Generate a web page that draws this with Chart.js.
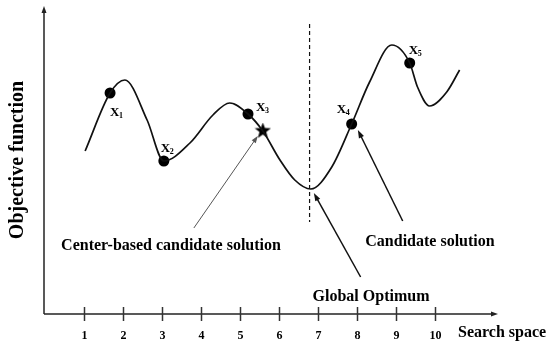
<!DOCTYPE html>
<html>
<head>
<meta charset="utf-8">
<script src="https://cdn.jsdelivr.net/npm/chart.js@4/dist/chart.umd.min.js"></script>
<style>
  body { margin: 0; background: #fff; }
  #chart { display: block; }
</style>
</head>
<body>
<canvas id="chart" width="550" height="345"></canvas>
<script>
// Search space ticks
const xTicks = [1, 2, 3, 4, 5, 6, 7, 8, 9, 10];

// Objective function curve
const curveX = [1.03, 1.67, 2.05, 2.62, 3.05, 3.72, 4.31, 4.74, 5.21, 5.59, 6.03, 6.41, 6.82, 7.36, 7.87, 8.33, 8.90, 9.36, 9.56, 9.87, 10.31, 10.64];
const curveY = [163, 221, 234, 194, 153, 171, 199, 211, 200, 183, 154, 134, 125, 147, 190, 232, 269, 251, 227, 208, 222, 244];

// Candidate solutions X1..X5
const markerX = [1.67, 3.05, 5.21, 7.87, 9.36];
const markerY = [221, 153, 200, 190, 251];
const markerNames = ['1', '2', '3', '4', '5'];

// Center-based candidate solution (star)
const starX = [5.59];
const starY = [183];

// Global optimum position
const optimumX = 6.79;

const serif = '"Liberation Serif", "Times New Roman", serif';

// label offsets (px) of the X_i names from their dots
const nameOffsets = [[6, 20], [3, -12], [14, -6], [-9, -14], [5, -12]];

// filled star marker
function makeStar(size) {
  const c = document.createElement('canvas');
  c.width = size; c.height = size;
  const g = c.getContext('2d');
  const cx = size / 2, cy = size / 2, R = size / 2, r = R * 0.42;
  g.beginPath();
  for (let i = 0; i < 10; i++) {
    const a = -Math.PI / 2 + i * Math.PI / 5;
    const rad = i % 2 === 0 ? R : r;
    g.lineTo(cx + rad * Math.cos(a), cy + rad * Math.sin(a));
  }
  g.closePath();
  g.fillStyle = '#000';
  g.fill();
  return c;
}

function arrow(ctx, x1, y1, x2, y2, color, width, len, half) {
  ctx.save();
  ctx.strokeStyle = color;
  ctx.fillStyle = color;
  ctx.lineWidth = width;
  const a = Math.atan2(y2 - y1, x2 - x1);
  ctx.beginPath();
  ctx.moveTo(x1, y1);
  ctx.lineTo(x2 - Math.cos(a) * len * 0.8, y2 - Math.sin(a) * len * 0.8);
  ctx.stroke();
  ctx.beginPath();
  ctx.moveTo(x2, y2);
  ctx.lineTo(x2 - len * Math.cos(a) + half * Math.sin(a), y2 - len * Math.sin(a) - half * Math.cos(a));
  ctx.lineTo(x2 - len * Math.cos(a) - half * Math.sin(a), y2 - len * Math.sin(a) + half * Math.cos(a));
  ctx.closePath();
  ctx.fill();
  ctx.restore();
}

const decorations = {
  id: 'decorations',
  beforeDatasetsDraw(chart) {
    const ctx = chart.ctx;
    const xs = chart.scales.x, ys = chart.scales.y;
    const area = chart.chartArea;
    ctx.save();
    // dashed optimum line
    ctx.strokeStyle = '#111';
    ctx.lineWidth = 1.2;
    ctx.setLineDash([4, 3]);
    ctx.beginPath();
    ctx.moveTo(xs.getPixelForValue(optimumX), ys.getPixelForValue(290));
    ctx.lineTo(xs.getPixelForValue(optimumX), ys.getPixelForValue(92));
    ctx.stroke();
    ctx.setLineDash([]);

    // axes with arrows
    const ox = area.left - 1, oy = area.bottom;
    arrow(ctx, ox, oy, ox, 6, '#222', 1.5, 7, 2.5);
    arrow(ctx, ox, oy, area.right + 1, oy, '#222', 1.5, 7, 2.5);

    // ticks crossing the axis + labels
    ctx.strokeStyle = '#333';
    ctx.lineWidth = 1.5;
    ctx.fillStyle = '#000';
    ctx.font = 'bold 12px ' + serif;
    ctx.textAlign = 'center';
    ctx.textBaseline = 'middle';
    xTicks.forEach(t => {
      const px = Math.round(xs.getPixelForValue(t)) + 0.5;
      ctx.beginPath();
      ctx.moveTo(px, oy - 7);
      ctx.lineTo(px, oy + 7);
      ctx.stroke();
      ctx.fillText(String(t), px, 336);
    });
    ctx.restore();
  },
  afterDatasetsDraw(chart) {
    const ctx = chart.ctx;
    const xs = chart.scales.x, ys = chart.scales.y;
    const P = (x, y) => [xs.getPixelForValue(x), ys.getPixelForValue(y)];
    ctx.save();

    // annotation arrows
    let a = P(3.82, 86), b = P(5.46, 178);
    arrow(ctx, a[0], a[1], b[0], b[1], '#555', 1, 7, 2.5);
    a = P(8.10, 37); b = P(6.90, 121);
    arrow(ctx, a[0], a[1], b[0], b[1], '#111', 1.5, 8, 2.8);
    a = P(9.18, 93); b = P(8.03, 184);
    arrow(ctx, a[0], a[1], b[0], b[1], '#111', 1.5, 8, 2.8);

    // X_i names
    ctx.fillStyle = '#000';
    ctx.textBaseline = 'middle';
    markerX.forEach((mx, i) => {
      const [px, py] = P(mx, markerY[i]);
      const lx = px + nameOffsets[i][0], ly = py + nameOffsets[i][1];
      ctx.font = 'bold 13px ' + serif;
      ctx.textAlign = 'left';
      ctx.fillText('X', lx - 6, ly);
      ctx.font = 'bold 8px ' + serif;
      ctx.fillText(markerNames[i], lx + 3, ly + 3);
    });

    // text labels
    ctx.font = 'bold 16px ' + serif;
    ctx.textAlign = 'center';
    ctx.fillText('Center-based candidate solution', 171, 246);
    ctx.fillText('Candidate solution', 430, 242);
    ctx.fillText('Global Optimum', 371, 297);
    ctx.textAlign = 'left';
    ctx.fillText('Search space', 458, 333);

    ctx.translate(18, 160);
    ctx.rotate(-Math.PI / 2);
    ctx.textAlign = 'center';
    ctx.font = 'bold 20px ' + serif;
    ctx.fillText('Objective function', 0, 0);
    ctx.restore();
  }
};

new Chart(document.getElementById('chart'), {
  type: 'scatter',
  data: {
    datasets: [
      {
        label: 'curve',
        data: curveX.map((x, i) => ({ x: x, y: curveY[i] })),
        showLine: true,
        borderColor: '#111',
        borderWidth: 1.7,
        pointRadius: 0,
        cubicInterpolationMode: 'monotone'
      },
      {
        label: 'candidates',
        data: markerX.map((x, i) => ({ x: x, y: markerY[i] })),
        pointRadius: 5.5,
        backgroundColor: '#000',
        borderColor: '#000',
        borderWidth: 0
      },
      {
        label: 'center',
        data: starX.map((x, i) => ({ x: x, y: starY[i] })),
        pointStyle: makeStar(17),
        pointRadius: 8
      }
    ]
  },
  options: {
    responsive: false,
    devicePixelRatio: 1,
    animation: false,
    layout: { padding: { left: 45, right: 53, top: 10, bottom: 31 } },
    scales: {
      x: { type: 'linear', display: false, min: 0, max: 11.6 },
      y: { type: 'linear', display: false, min: 0, max: 304 }
    },
    plugins: {
      legend: { display: false },
      tooltip: { enabled: false }
    }
  },
  plugins: [decorations]
});
</script>
</body>
</html>
